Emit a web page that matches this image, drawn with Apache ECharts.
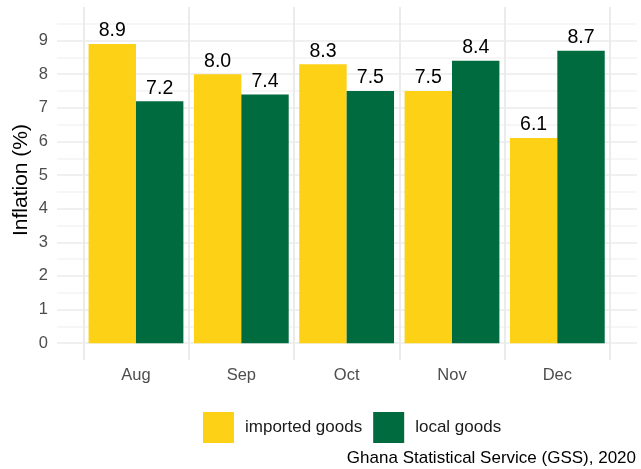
<!DOCTYPE html>
<html>
<head>
<meta charset="utf-8">
<script src="https://cdn.jsdelivr.net/npm/echarts@6/dist/echarts.min.js"></script>
<style>
html,body{margin:0;padding:0;background:#fff;}
#chart{width:641px;height:469px;}
</style>
</head>
<body>
<div id="chart"></div>
<script>
var months = ['Aug', 'Sep', 'Oct', 'Nov', 'Dec'];
var imported = [8.9, 8.0, 8.3, 7.5, 6.1];
var local = [7.2, 7.4, 7.5, 8.4, 8.7];
var seriesNames = ['imported goods', 'local goods'];
var yTitle = 'Inflation (%)';
var caption = 'Ghana Statistical Service (GSS), 2020';

var FONT = 'Liberation Sans, Arial, Helvetica, sans-serif';
var MAJOR = '#EBEBEB', MINOR = '#F3F3F3';

// y ticks: -0.5 .. 10 by 0.5 -> 22 lines
var lineColors = [];
for (var i = 0; i < 22; i++) {
  if (i === 0 || i === 21) lineColors.push('rgba(0,0,0,0)');
  else lineColors.push(i % 2 === 1 ? MAJOR : MINOR);
}

var chart = echarts.init(document.getElementById('chart'), null, {renderer: 'canvas'});
chart.setOption({
  backgroundColor: '#ffffff',
  animation: false,
  grid: [
    {left: 57, right: 4, top: 7, bottom: 109},
    {left: 83.3, right: 31, top: 7, bottom: 109}
  ],
  xAxis: [
    {type: 'value', gridIndex: 0, show: false, min: 0, max: 1},
    {type: 'category', gridIndex: 1, data: months,
     axisLine: {show: false, onZero: false}, axisTick: {show: false},
     axisLabel: {color: '#4D4D4D', fontSize: 16.5, fontFamily: FONT, margin: 7},
     splitLine: {show: true, lineStyle: {color: MAJOR, width: 2}}}
  ],
  yAxis: [
    {type: 'value', gridIndex: 0, min: -0.5, max: 10, interval: 0.5,
     axisLine: {show: false}, axisTick: {show: false},
     axisLabel: {color: '#4D4D4D', fontSize: 16.5, fontFamily: FONT, margin: 9,
       formatter: function (v) { return (Math.abs(v - Math.round(v)) < 1e-9 && v >= 0 && v <= 9) ? String(Math.round(v)) : ''; }},
     splitLine: {show: true, lineStyle: {color: lineColors, width: 1.5}}},
    {type: 'value', gridIndex: 1, min: -0.5, max: 10, interval: 0.5, show: false,
     splitLine: {show: false}}
  ],
  legend: {
    left: 203, top: 412, orient: 'horizontal', padding: 0,
    itemWidth: 31, itemHeight: 31, itemGap: 11, icon: 'rect',
    textStyle: {fontSize: 17, color: '#1A1A1A', fontFamily: FONT, padding: [0, 0, 0, 6]},
    data: seriesNames
  },
  series: [
    {name: seriesNames[0], type: 'bar', xAxisIndex: 1, yAxisIndex: 1, data: imported,
     itemStyle: {color: '#FCD116'}, barGap: '0%', barCategoryGap: '10%',
     label: {show: true, position: 'top', distance: 3, color: '#000', fontSize: 19.5, fontFamily: FONT,
       formatter: function (p) { return p.value.toFixed(1); }}},
    {name: seriesNames[1], type: 'bar', xAxisIndex: 1, yAxisIndex: 1, data: local,
     itemStyle: {color: '#006B3F'}, barGap: '0%', barCategoryGap: '10%',
     label: {show: true, position: 'top', distance: 3, color: '#000', fontSize: 19.5, fontFamily: FONT,
       formatter: function (p) { return p.value.toFixed(1); }}}
  ],
  graphic: [
    {type: 'text', x: 21, y: 180, rotation: Math.PI / 2,
     style: {text: yTitle, fontSize: 21, fontFamily: FONT, fill: '#000', textAlign: 'center', textVerticalAlign: 'middle'}},
    {type: 'text', right: 5, top: 450,
     style: {text: caption, fontSize: 17, fontFamily: FONT, fill: '#000'}}
  ]
});
</script>
</body>
</html>
